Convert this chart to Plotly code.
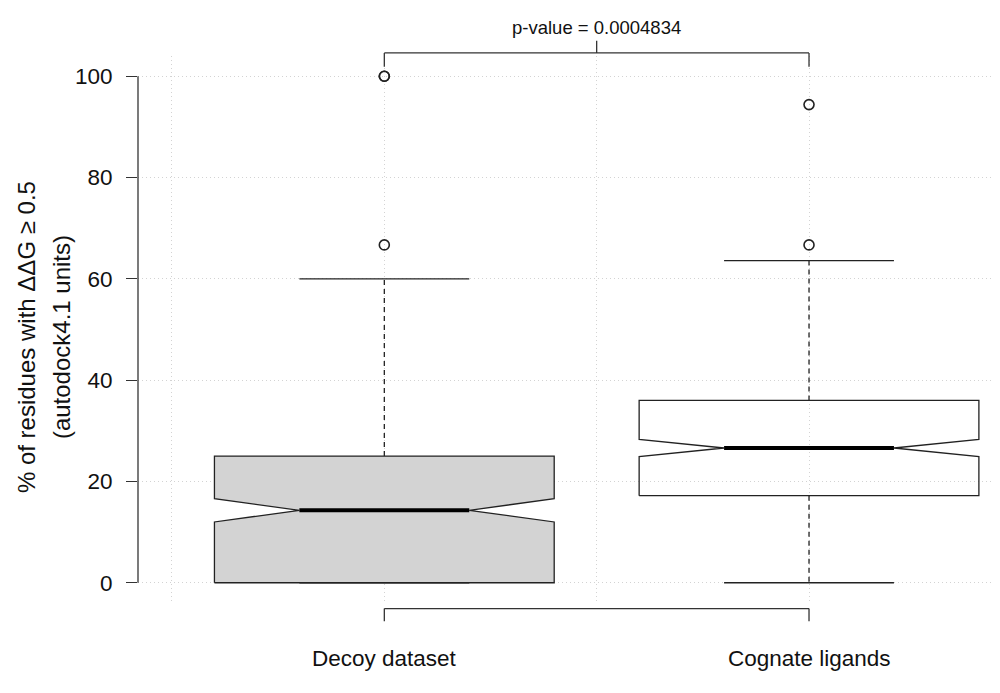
import plotly.graph_objects as go

# summary stats
groups = ["Decoy dataset", "Cognate ligands"]
positions = [1, 2]
lower_whisker = [0, 0]
q1 = [0, 17.2]
median = [14.3, 26.6]
q3 = [25.0, 36.0]
upper_whisker = [60.0, 63.6]
notch_low = [12.0, 24.9]
notch_high = [16.6, 28.3]
outliers = [[66.7, 100, 100], [66.7, 94.4]]
box_fill = ["#D3D3D3", "rgba(0,0,0,0)"]

y_ticks = [0, 20, 40, 60, 80, 100]
p_label = "p-value = 0.0004834"

X0, X1 = 0.42, 2.4497
Y0, Y1 = -4, 104
HALF = 0.4  # boxwex 0.8
LINE = "#222222"
FONT = "Liberation Sans, Arial, Helvetica, sans-serif"


def px(x):
    return (x - X0) / (X1 - X0)


def py(y):
    return (y - Y0) / (Y1 - Y0)


fig = go.Figure()

for i in range(len(groups)):
    x = positions[i]
    w = HALF
    # notched box outline
    bx = [x - w, x - w, x - w / 2, x - w, x - w, x + w, x + w, x + w / 2, x + w, x + w, x - w]
    by = [q1[i], notch_low[i], median[i], notch_high[i], q3[i], q3[i], notch_high[i], median[i],
          notch_low[i], q1[i], q1[i]]
    fig.add_trace(go.Scatter(x=bx, y=by, mode="lines", fill="toself", fillcolor=box_fill[i],
                             line=dict(color=LINE, width=1.3), hoverinfo="skip"))
    # median
    fig.add_trace(go.Scatter(x=[x - w / 2, x + w / 2], y=[median[i], median[i]], mode="lines",
                             line=dict(color="black", width=4), hoverinfo="skip"))
    # whiskers
    fig.add_trace(go.Scatter(x=[x, x, None, x, x],
                             y=[q3[i], upper_whisker[i], None, q1[i], lower_whisker[i]],
                             mode="lines", line=dict(color=LINE, width=1.3, dash="5px,4px"),
                             hoverinfo="skip"))
    # staples
    fig.add_trace(go.Scatter(x=[x - w / 2, x + w / 2, None, x - w / 2, x + w / 2],
                             y=[upper_whisker[i], upper_whisker[i], None, lower_whisker[i], lower_whisker[i]],
                             mode="lines", line=dict(color=LINE, width=1.3), hoverinfo="skip"))
    # outliers
    fig.add_trace(go.Scatter(x=[x] * len(outliers[i]), y=outliers[i], mode="markers",
                             marker=dict(symbol="circle-open", size=10, color=LINE,
                                         line=dict(width=1.6)),
                             hoverinfo="skip", cliponaxis=False))

shapes = []
# y axis line (R style: only over tick range)
shapes.append(dict(type="line", xref="paper", yref="paper", x0=0, x1=0,
                   y0=py(y_ticks[0]), y1=py(y_ticks[-1]), line=dict(color="#333", width=1.3)))
# bottom axis line with ticks at the two groups
yb, yb_tick = -5.1, -7.6
shapes.append(dict(type="line", xref="paper", yref="paper", x0=px(1), x1=px(2),
                   y0=py(yb), y1=py(yb), line=dict(color="#333", width=1.3)))
for x in positions:
    shapes.append(dict(type="line", xref="paper", yref="paper", x0=px(x), x1=px(x),
                       y0=py(yb), y1=py(yb_tick), line=dict(color="#333", width=1.3)))
# significance bracket
yt, yt_leg, yt_mid = 104.6, 101.9, 107.0
shapes.append(dict(type="line", xref="paper", yref="paper", x0=px(1), x1=px(2),
                   y0=py(yt), y1=py(yt), line=dict(color="#333", width=1.3)))
for x in positions:
    shapes.append(dict(type="line", xref="paper", yref="paper", x0=px(x), x1=px(x),
                       y0=py(yt), y1=py(yt_leg), line=dict(color="#333", width=1.3)))
shapes.append(dict(type="line", xref="paper", yref="paper", x0=px(1.5), x1=px(1.5),
                   y0=py(yt), y1=py(yt_mid), line=dict(color="#333", width=1.3)))

annotations = [
    dict(text=p_label, xref="paper", yref="paper", x=px(1.5), y=py(109.6),
         showarrow=False, font=dict(size=18.5, color="#111", family=FONT),
         xanchor="center", yanchor="middle"),
    dict(text="% of residues with ΔΔG ≥ 0.5", xref="paper", yref="paper",
         x=px(0.42 - 112 / 424.7), y=py(48.5), textangle=-90, showarrow=False,
         font=dict(size=24, color="#111", family=FONT), xanchor="center", yanchor="middle"),
    dict(text="(autodock4.1 units)", xref="paper", yref="paper",
         x=px(0.42 - 77 / 424.7), y=py(48.5), textangle=-90, showarrow=False,
         font=dict(size=24, color="#111", family=FONT), xanchor="center", yanchor="middle"),
]
for i in range(len(groups)):
    annotations.append(dict(text=groups[i], xref="paper", yref="paper", x=px(positions[i]),
                            y=py(-15.0), showarrow=False,
                            font=dict(size=22.5, color="#111", family=FONT),
                            xanchor="center", yanchor="middle"))

# page body has an 8px margin, so the figure is shrunk by that much
fig.update_layout(
    width=992, height=685,
    margin=dict(l=130, r=0, t=48, b=90),
    plot_bgcolor="white", paper_bgcolor="white",
    showlegend=False,
    shapes=shapes,
    annotations=annotations,
    xaxis=dict(range=[X0, X1], tickvals=[0.5, 1, 1.5, 2, 2.5], showticklabels=False,
               ticks="", showgrid=True, gridcolor="#D3D3D3", griddash="1px,3px", gridwidth=1,
               zeroline=False, showline=False, layer="above traces"),
    yaxis=dict(range=[Y0, Y1], tickvals=y_ticks, ticks="outside", ticklen=11,
               tickcolor="#333", tickwidth=1.3, ticklabelstandoff=9,
               tickfont=dict(size=22.5, color="#111", family=FONT),
               showgrid=True, gridcolor="#D3D3D3", griddash="1px,3px", gridwidth=1,
               zeroline=False, showline=False, layer="above traces"),
)

fig.write_html("out.html")
